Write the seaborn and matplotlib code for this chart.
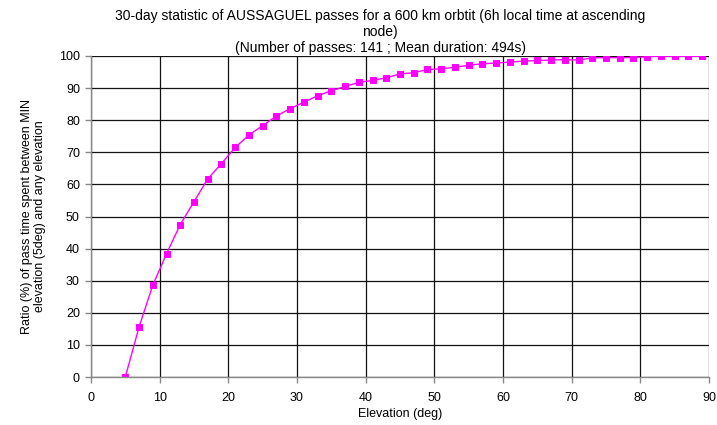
import matplotlib
matplotlib.use("Agg")
import matplotlib.pyplot as plt
import seaborn as sns
import pandas as pd

elevation = [5, 7, 9, 11, 13, 15, 17, 19, 21, 23, 25, 27, 29, 31, 33, 35, 37, 39, 41, 43, 45,
             47, 49, 51, 53, 55, 57, 59, 61, 63, 65, 67, 69, 71, 73, 75, 77, 79, 81, 83, 85, 87, 89]
ratio = [0.0, 15.6, 28.6, 38.4, 47.5, 54.6, 61.7, 66.5, 71.5, 75.4, 78.3, 81.3, 83.6, 85.6, 87.6,
         89.2, 90.5, 91.8, 92.4, 93.2, 94.4, 94.8, 95.8, 96.0, 96.5, 97.1, 97.6, 97.8, 98.1, 98.4,
         98.6, 98.75, 98.85, 98.75, 99.4, 99.5, 99.5, 99.5, 99.8, 100.0, 99.9, 99.9, 99.9]
x_ticks = [0, 10, 20, 30, 40, 50, 60, 70, 80, 90]
y_ticks = [0, 10, 20, 30, 40, 50, 60, 70, 80, 90, 100]

sns.set_theme(style="white")
plt.rcParams['font.family'] = ['Liberation Sans', 'DejaVu Sans']

df = pd.DataFrame({"Elevation (deg)": elevation, "ratio": ratio})

fig = plt.figure(figsize=(7.17, 4.25), dpi=100)
ax = fig.add_axes([91/717, 1 - 377/425, (709 - 91)/717, (377 - 56)/425])

sns.lineplot(data=df, x="Elevation (deg)", y="ratio", ax=ax, color="#ff00ff",
             marker="s", markersize=5, markeredgecolor="#ff00ff", linewidth=1)

ax.set_xlim(0, 90)
ax.set_ylim(0, 100)
ax.set_xticks(x_ticks)
ax.set_yticks(y_ticks)
ax.grid(True, color="#111111", linewidth=0.9)
ax.set_axisbelow(True)
for s in ["top", "right"]:
    ax.spines[s].set_visible(False)
for s in ["left", "bottom"]:
    ax.spines[s].set_color("#888888")
    ax.spines[s].set_linewidth(1)
ax.tick_params(axis="x", which="major", length=4, width=1, color="#888888",
               labelsize=9, direction="out", bottom=True, pad=7, labelcolor="black")
ax.tick_params(axis="y", which="major", length=4, width=1, color="#888888",
               labelsize=9, direction="out", left=True, pad=4, labelcolor="black")
ax.set_xlabel("Elevation (deg)", fontsize=9, color="black", labelpad=3)
ax.set_ylabel("Ratio (%) of pass time spent between MIN\nelevation (5deg) and any elevation",
              fontsize=9, color="black", labelpad=9)

fig.text(380/717, 1 - 9/425,
         "30-day statistic of AUSSAGUEL passes for a 600 km orbtit (6h local time at ascending\nnode)\n(Number of passes: 141 ; Mean duration: 494s)",
         ha="center", va="top", fontsize=10, color="black", linespacing=1.2)

fig.savefig("out.png", dpi=100)
